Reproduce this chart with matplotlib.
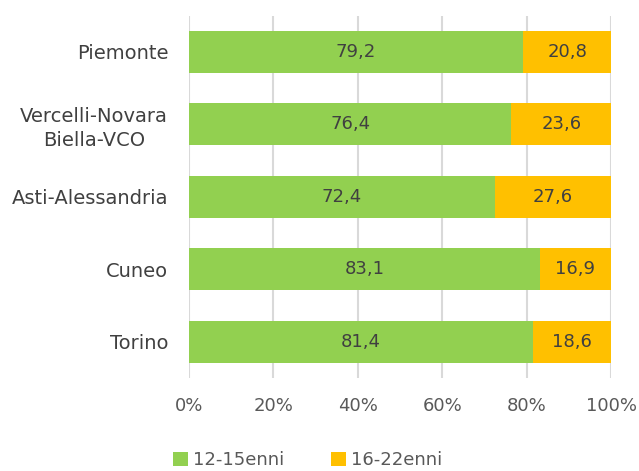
import matplotlib
matplotlib.use("Agg")
import matplotlib.pyplot as plt
import numpy as np

categories = ["Piemonte", "Vercelli-Novara\nBiella-VCO", "Asti-Alessandria", "Cuneo", "Torino"]
giovani = [79.2, 76.4, 72.4, 83.1, 81.4]
adulti = [20.8, 23.6, 27.6, 16.9, 18.6]
series_names = ["12-15enni", "16-22enni"]
xticks = [0, 20, 40, 60, 80, 100]
xticklabels = ["0%", "20%", "40%", "60%", "80%", "100%"]

plt.rcParams['font.family'] = ['DejaVu Sans']

fig = plt.figure(figsize=(6.39, 4.71), dpi=100)
ax = fig.add_axes([189/639, 1 - 378/471, (611-189)/639, (378-15.5)/471])

y = np.arange(len(categories))
green = "#92D050"
orange = "#FFC000"
h = 0.58
b1 = ax.barh(y, giovani, height=h, color=green, label=series_names[0], zorder=3)
b2 = ax.barh(y, adulti, left=giovani, height=h, color=orange, label=series_names[1], zorder=3)

for yi, g, a in zip(y, giovani, adulti):
    ax.text(g/2, yi, f"{g:.1f}".replace(".", ","), ha="center", va="center",
            fontsize=13, color="#404040", zorder=4)
    ax.text(g + a/2, yi, f"{a:.1f}".replace(".", ","), ha="center", va="center",
            fontsize=13, color="#404040", zorder=4)

ax.set_ylim(len(categories) - 0.5, -0.5)
ax.set_xlim(0, 100)
ax.set_yticks(y)
ax.set_yticklabels(categories, fontsize=14, color="#404040", multialignment="center",
                   linespacing=1.3)
ax.set_xticks(xticks)
ax.set_xticklabels(xticklabels, fontsize=13, color="#595959")
ax.tick_params(axis="both", length=0)
ax.tick_params(axis="x", pad=14)
ax.tick_params(axis="y", pad=15)
ax.xaxis.grid(True, color="#D9D9D9", linewidth=1.5, zorder=0)
for s in ax.spines.values():
    s.set_visible(False)

leg = fig.legend(handles=[b1, b2], labels=series_names, loc="center",
                 bbox_to_anchor=(0.482, 1 - 460/471), ncol=2, frameon=False,
                 fontsize=13, handlelength=0.8, handleheight=0.8, columnspacing=2.6,
                 handletextpad=0.3, labelcolor="#595959")

fig.savefig("out.png", dpi=100)
